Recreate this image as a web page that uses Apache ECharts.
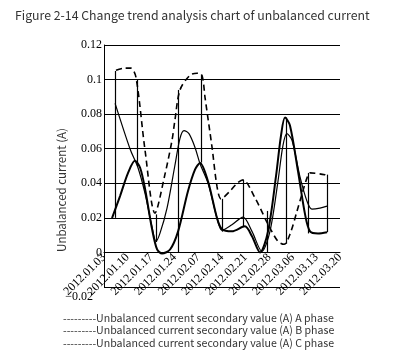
<!DOCTYPE html>
<html><head><meta charset="utf-8">
<script src="https://cdn.jsdelivr.net/npm/echarts@6/dist/echarts.min.js"></script>
<style>html,body{margin:0;padding:0;background:#fff}#c{width:400px;height:357px}</style>
</head><body><div id="c"></div>
<script>
// Category labels (evenly spaced on the x axis, index 0..10)
const dates = ['2012.01.03','2012.01.10','2012.01.17','2012.01.24','2012.02.07','2012.02.14','2012.02.21','2012.02.28','2012.03.06','2012.03.13','2012.03.20'];
const yTickLabels = ['\u22120.02','0','0.02','0.04','0.06','0.08','0.1','0.12'];
const yMin = -0.02;

// Positions are in category-index units, values in A
const phaseA_x = [0.34,0.68,1.02,1.31,1.53,1.74,2.03,2.25,2.46,2.8,3.14,3.56,3.86,4.07,4.41,4.79,5.0,5.42,5.97,6.27,6.61,6.95,7.29,7.5,7.67,7.88,8.22,8.52,8.73,9.07,9.45];
const phaseA_y = [0.0198,0.0326,0.046,0.053,0.049,0.0367,0.014,0.0017,-0.0006,0.0017,0.0122,0.0355,0.048,0.0518,0.041,0.0198,0.0134,0.0122,0.0151,0.0093,0.0,0.0122,0.0443,0.0676,0.078,0.0734,0.047,0.022,0.0122,0.011,0.0117];

const phaseB_x = [0.47,1.1,1.44,1.74,2.03,2.2,2.37,2.67,3.0,3.22,3.39,3.6,3.86,4.07,4.41,4.79,5.0,5.42,5.89,6.27,6.69,7.03,7.37,7.58,7.75,7.97,8.3,8.6,8.81,9.15,9.45];
const phaseB_y = [0.0862,0.06,0.049,0.034,0.015,0.0064,0.011,0.0256,0.05,0.066,0.0705,0.0687,0.0606,0.0513,0.04,0.0198,0.0128,0.016,0.0204,0.0122,0.0006,0.012,0.041,0.0617,0.0687,0.0647,0.044,0.0297,0.025,0.0256,0.0268];

const phaseC_x = [0.51,0.85,1.14,1.36,1.74,2.16,2.58,2.88,3.0,3.22,3.64,3.94,4.15,4.28,4.58,4.79,4.96,5.34,5.64,5.89,6.4,6.95,7.37,7.63,7.88,8.18,8.39,8.6,8.73,9.36,9.45];
const phaseC_y = [0.1054,0.1066,0.1066,0.101,0.059,0.0227,0.045,0.0647,0.076,0.094,0.1025,0.1037,0.1025,0.0897,0.0606,0.038,0.031,0.0355,0.04,0.042,0.0315,0.0163,0.0064,0.0047,0.0105,0.024,0.0338,0.043,0.046,0.0449,0.044];

// Vertical connector lines seen in the figure
const dropX = [0.47,1.4,2.2,3.14,4.12,5.0,5.89,6.9,7.71,8.64,9.45];
const dropTop = [0.105,0.1,0.022,0.094,0.103,0.031,0.042,0.024,0.078,0.046,0.045];
const dropBottom = [0.02,0.05,0.006,0.0,0.052,0.012,0.015,0.0,0.005,0.011,0.0117];

const names = [
  '---------Unbalanced current secondary value (A) A phase',
  '---------Unbalanced current secondary value (A) B phase',
  '---------Unbalanced current secondary value (A) C phase'
];

const zip = (xs, ys) => xs.map((x, i) => [x, ys[i]]);
const drops = dropX.map((x, i) => [{coord: [x, dropTop[i]]}, {coord: [x, dropBottom[i]]}]);

const serif = 'Liberation Serif';
const sans = 'Noto Sans CJK SC';
const gridTop = 45, gridBottom = 70, H = 357;
const zeroOffset = -(H - gridTop - gridBottom) / 7; // move label row up to the 0 line

const chart = echarts.init(document.getElementById('c'), null, {renderer: 'canvas'});
chart.setOption({
  animation: false,
  backgroundColor: '#fff',
  title: {
    text: 'Figure 2-14 Change trend analysis chart of unbalanced current',
    left: 10, top: 4,
    textStyle: {fontFamily: sans, fontSize: 12.3, fontWeight: 'normal', color: '#333'}
  },
  legend: {
    orient: 'vertical', left: 58, top: 312, itemGap: 2, padding: 0,
    icon: 'none', itemWidth: 0, itemHeight: 11,
    textStyle: {fontFamily: sans, fontSize: 10.6, color: '#333'},
    selectedMode: false,
    data: names
  },
  graphic: [{
    type: 'text', x: 62, y: 190, rotation: Math.PI / 2,
    style: {text: 'Unbalanced current (A)', fontFamily: sans, fontSize: 11.5, fill: '#333', textAlign: 'center', textVerticalAlign: 'middle'}
  }],
  grid: {left: 104, right: 60, top: gridTop, bottom: gridBottom},
  xAxis: {
    type: 'value', min: 0, max: 10, interval: 1,
    offset: zeroOffset,
    axisLine: {onZero: false, lineStyle: {color: '#000', width: 1}},
    axisTick: {show: false},
    splitLine: {show: false},
    axisLabel: {
      rotate: 45, margin: 3, fontFamily: serif, fontSize: 12, color: '#000',
      formatter: (v) => dates[Math.round(v)] || ''
    }
  },
  yAxis: {
    type: 'value', min: yMin, max: 0.12, interval: 0.02,
    axisLine: {show: true, onZero: false, lineStyle: {color: '#000', width: 1}},
    axisTick: {show: false},
    splitLine: {show: true, showMinLine: true, showMaxLine: true, lineStyle: {color: '#000', width: 1}},
    axisLabel: {
      margin: 2, fontFamily: serif, fontSize: 12, color: '#000',
      formatter: (v, i) => i === 0 ? '{m|' + yTickLabels[i] + '}' : yTickLabels[i],
      rich: {m: {fontFamily: serif, fontSize: 12, color: '#000', padding: [20, 9, 0, 0]}}
    }
  },
  series: [
    {name: names[0], type: 'line', data: zip(phaseA_x, phaseA_y), smooth: 0.3, symbol: 'none',
     lineStyle: {color: '#000', width: 2}, itemStyle: {color: '#000'}},
    {name: names[1], type: 'line', data: zip(phaseB_x, phaseB_y), smooth: 0.3, symbol: 'none', clip: false,
     lineStyle: {color: '#000', width: 1.2}, itemStyle: {color: '#000'},
     markLine: {silent: true, symbol: ['none','none'], label: {show: false}, z: 10,
       lineStyle: {color: '#000', width: 1.2, type: 'solid'}, data: drops.concat([{yAxis: yMin}])}},
    {name: names[2], type: 'line', data: zip(phaseC_x, phaseC_y), smooth: 0.3, symbol: 'none',
     lineStyle: {color: '#000', width: 1.6, type: [6, 4]}, itemStyle: {color: '#000'}}
  ]
});
</script></body></html>
